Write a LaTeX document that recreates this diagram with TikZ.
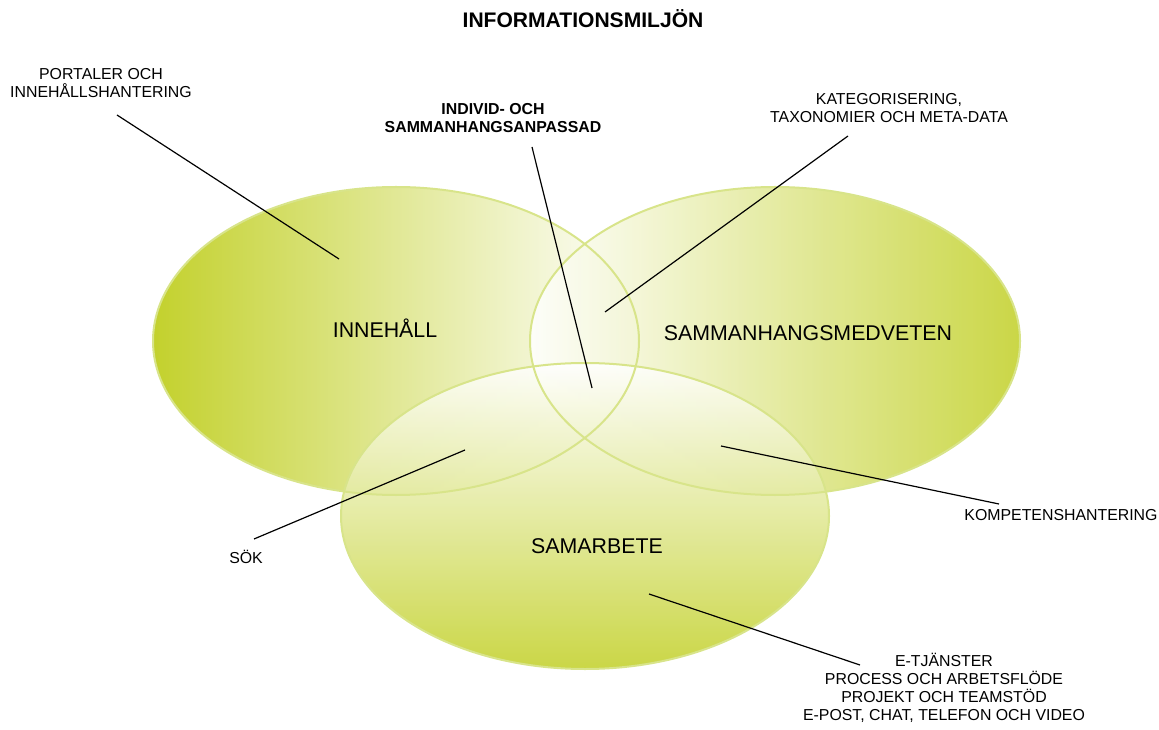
\documentclass[tikz,border=0pt]{standalone}
\usepackage{fontspec}
\setmainfont{Liberation Sans}
\definecolor{lime}{RGB}{195,209,45}
\definecolor{limeedge}{RGB}{216,228,138}

\begin{document}
\begin{tikzpicture}[x=0.75pt,y=-0.75pt,
  lbl/.style={align=center,inner sep=0pt,font=\fontsize{11.9}{13.5}\selectfont},
  setname/.style={inner sep=0pt,anchor=base,font=\fontsize{16}{19}\selectfont},
  setfill/.style={fill opacity=0.88},
  setedge/.style={draw=limeedge,line width=1.5pt},
  pointer/.style={line width=0.9pt}]
\useasboundingbox (0,0) rectangle (1159,730);

\path[left color=lime,right color=white] (396,341) ellipse [x radius=243,y radius=154];
\path[setfill,left color=white,right color=lime] (775,341) ellipse [x radius=245,y radius=154];
\path[setfill,top color=white,bottom color=lime] (585,516) ellipse [x radius=244,y radius=153];
\draw[setedge] (396,341) ellipse [x radius=243,y radius=154];
\draw[setedge] (775,341) ellipse [x radius=245,y radius=154];
\draw[setedge] (585,516) ellipse [x radius=244,y radius=153];

\node[inner sep=0pt,anchor=base,font=\fontsize{15.8}{19}\selectfont\bfseries] (title) at (583,28) {INFORMATIONSMILJÖN};

\node[setname] (innehall) at (385,338) {INNEHÅLL};
\node[setname] (medveten) at (808,341) {SAMMANHANGSMEDVETEN};
\node[setname] (samarbete) at (597,553) {SAMARBETE};

\node[lbl] (portal) at (101,83) {PORTALER OCH\\INNEHÅLLSHANTERING};
\node[lbl,font=\fontsize{11.9}{13.5}\selectfont\bfseries] (individ) at (493,118) {INDIVID- OCH\\SAMMANHANGSANPASSAD};
\node[lbl] (kategori) at (889,108) {KATEGORISERING,\\TAXONOMIER OCH META-DATA};
\node[lbl,anchor=base] (kompetens) at (1061,520) {KOMPETENSHANTERING};
\node[lbl,anchor=base] (sok) at (246,563) {SÖK};
\node[lbl] (etjanst) at (944,688) {E-TJÄNSTER\\PROCESS OCH ARBETSFLÖDE\\PROJEKT OCH TEAMSTÖD\\E-POST, CHAT, TELEFON OCH VIDEO};

\coordinate (portalA) at (117,115);
\coordinate (portalB) at (339,259);
\coordinate (individA) at (532,147);
\coordinate (individB) at (592,388);
\coordinate (kategoriA) at (848,136);
\coordinate (kategoriB) at (605,312);
\coordinate (kompetensA) at (999,504);
\coordinate (kompetensB) at (721,446);
\coordinate (sokA) at (254,539);
\coordinate (sokB) at (465,450);
\coordinate (etjanstA) at (860,665);
\coordinate (etjanstB) at (649,594);

\draw[pointer] (portalA) -- (portalB);
\draw[pointer] (individA) -- (individB);
\draw[pointer] (kategoriA) -- (kategoriB);
\draw[pointer] (kompetensA) -- (kompetensB);
\draw[pointer] (sokA) -- (sokB);
\draw[pointer] (etjanstA) -- (etjanstB);
\end{tikzpicture}
\end{document}
